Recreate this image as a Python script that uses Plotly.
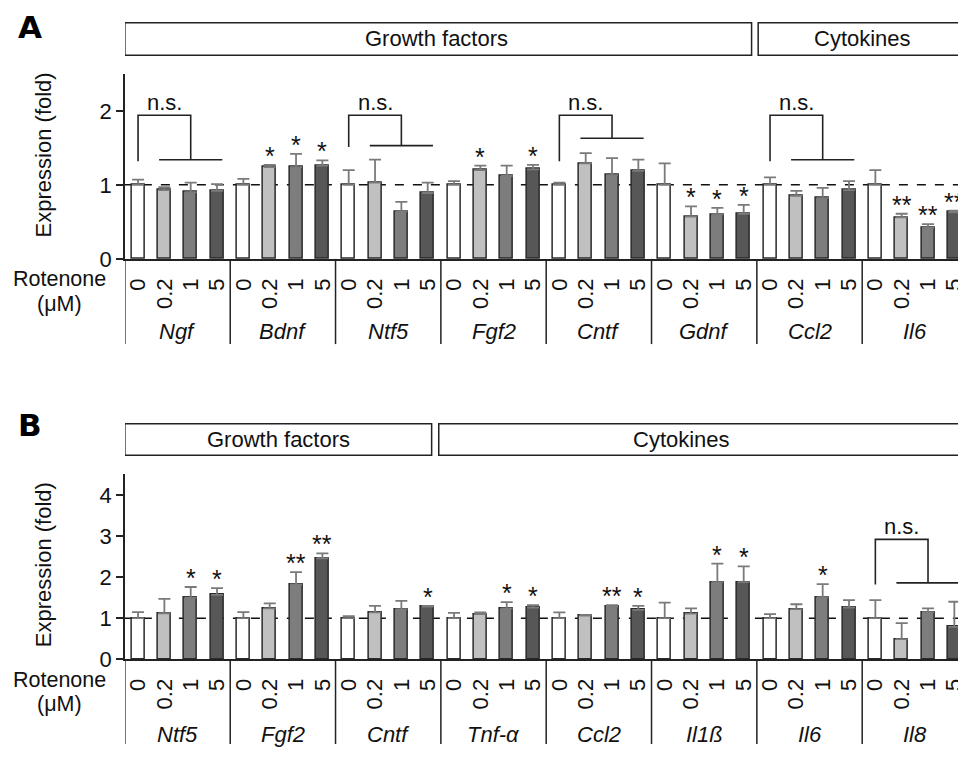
import plotly.graph_objects as go

# ---------------- data ----------------
conc_labels = ["0", "0.2", "1", "5"]

genes_A = ["Ngf", "Bdnf", "Ntf5", "Fgf2", "Cntf", "Gdnf", "Ccl2", "Il6"]
A_mean_0 = [1.00, 1.00, 1.00, 1.00, 1.00, 1.00, 1.00, 1.00]
A_mean_02 = [0.93, 1.24, 1.03, 1.20, 1.29, 0.57, 0.85, 0.56]
A_mean_1 = [0.90, 1.24, 0.64, 1.12, 1.13, 0.60, 0.82, 0.42]
A_mean_5 = [0.92, 1.26, 0.89, 1.21, 1.19, 0.61, 0.93, 0.63]
A_err_0 = [0.07, 0.08, 0.20, 0.05, 0.03, 0.29, 0.10, 0.20]
A_err_02 = [0.04, 0.03, 0.31, 0.06, 0.14, 0.14, 0.07, 0.05]
A_err_1 = [0.13, 0.18, 0.13, 0.14, 0.23, 0.09, 0.14, 0.05]
A_err_5 = [0.09, 0.07, 0.14, 0.06, 0.15, 0.12, 0.12, 0.02]
A_sig_0 = ["", "", "", "", "", "", "", ""]
A_sig_02 = ["", "*", "", "*", "", "*", "", "**"]
A_sig_1 = ["", "*", "", "", "", "*", "", "**"]
A_sig_5 = ["", "*", "", "*", "", "*", "", "**"]

genes_B = ["Ntf5", "Fgf2", "Cntf", "Tnf-α", "Ccl2", "Il1ß", "Il6", "Il8"]
B_mean_0 = [1.00, 1.00, 1.00, 1.00, 1.00, 1.00, 1.00, 1.00]
B_mean_02 = [1.12, 1.24, 1.14, 1.10, 1.06, 1.11, 1.22, 0.49]
B_mean_1 = [1.50, 1.82, 1.22, 1.24, 1.28, 1.88, 1.51, 1.15]
B_mean_5 = [1.57, 2.46, 1.28, 1.26, 1.20, 1.88, 1.26, 0.79]
B_err_0 = [0.15, 0.15, 0.05, 0.13, 0.14, 0.38, 0.10, 0.44]
B_err_02 = [0.35, 0.12, 0.16, 0.04, 0.02, 0.13, 0.12, 0.39]
B_err_1 = [0.26, 0.30, 0.20, 0.15, 0.04, 0.45, 0.32, 0.09]
B_err_5 = [0.16, 0.12, 0.02, 0.06, 0.10, 0.38, 0.18, 0.61]
B_sig_0 = ["", "", "", "", "", "", "", ""]
B_sig_02 = ["", "", "", "", "", "", "", ""]
B_sig_1 = ["*", "**", "", "*", "**", "*", "*", ""]
B_sig_5 = ["*", "**", "*", "*", "*", "*", "", ""]

# n.s. brackets: (gene index, left-leg bottom, top, lower line level)
A_ns = [(0, 1.32, 1.94, 1.34), (2, 1.51, 1.94, 1.53), (4, 1.32, 1.94, 1.63), (6, 1.32, 1.94, 1.34)]
B_ns = [(7, 1.82, 2.92, 1.86)]

A_headers = [("Growth factors", -0.5, 23.3, 11.34), ("Cytokines", 23.55, 31.6, 27.5)]
B_headers = [("Growth factors", -0.5, 11.15, 5.33), ("Cytokines", 11.42, 32.5, 20.63)]

# ---------------- style ----------------
# page body adds an 8px margin, so the figure is 8px smaller than the window
OFF = 8
W, H = 966 - OFF, 760 - OFF
FONT = "Liberation Sans, Arial, sans-serif"
bar_colors = ["#ffffff", "#c0c0c0", "#7d7d7d", "#575757"]
edge = "#2a2a2a"
errc = "#7a7a7a"
XR = [-0.5, -0.5 + (966 - 125) / 26.36]


def px(x):
    return (x - OFF) / W


def py(y):
    return 1 - (y - OFF) / H


panels = [
    dict(ax="", genes=genes_A,
         means=[A_mean_0, A_mean_02, A_mean_1, A_mean_5],
         errs=[A_err_0, A_err_02, A_err_1, A_err_5],
         sigs=[A_sig_0, A_sig_02, A_sig_1, A_sig_5],
         ns=A_ns, headers=A_headers, ymax=2.5, ticks=[0, 1, 2],
         top=75, zero=263.3, bottom=350, gene_y=337, rot_y=284, um_y=309,
         title_y=157, box=(23, 56), letter="A", letter_y=27),
    dict(ax="2", genes=genes_B,
         means=[B_mean_0, B_mean_02, B_mean_1, B_mean_5],
         errs=[B_err_0, B_err_02, B_err_1, B_err_5],
         sigs=[B_sig_0, B_sig_02, B_sig_1, B_sig_5],
         ns=B_ns, headers=B_headers, ymax=4.5, ticks=[0, 1, 2, 3, 4],
         top=482.7, zero=670.7, bottom=757, gene_y=747, rot_y=692, um_y=716,
         title_y=574, box=(431, 463), letter="B", letter_y=432),
]

fig = go.Figure()
shapes = []
annotations = []
layout = {}


def ann(**kw):
    d = dict(showarrow=False, xanchor="center", yanchor="middle")
    d.update(kw)
    annotations.append(d)


for p in panels:
    xa, ya = "x" + p["ax"], "y" + p["ax"]
    n = len(p["genes"])
    for c in range(4):
        xs = [4 * g + c for g in range(n)]
        fig.add_trace(go.Bar(
            x=xs, y=p["means"][c], width=0.5,
            marker=dict(color=bar_colors[c], line=dict(color=edge, width=1.5)),
            error_y=dict(type="data", array=p["errs"][c], arrayminus=[0] * n,
                         symmetric=False, color=errc, thickness=1.8, width=6),
            xaxis=xa, yaxis=ya, showlegend=False, hoverinfo="skip"))
        for g in range(n):
            s = p["sigs"][c][g]
            if s:
                ann(x=4 * g + c, y=p["means"][c][g] + p["errs"][c][g], xref=xa, yref=ya,
                    text=s, yanchor="bottom", yshift=-7,
                    font=dict(family=FONT, size=25, color="#111"))
    # n.s. brackets
    for (g, leg_bottom, top, low) in p["ns"]:
        b = 4 * g
        fig.add_trace(go.Scatter(
            x=[b, b, b + 2, b + 2, None, b + 0.8, b + 3.2],
            y=[leg_bottom, top, top, low, None, low, low],
            mode="lines", line=dict(color="#222", width=1.6),
            xaxis=xa, yaxis=ya, showlegend=False, hoverinfo="skip"))
        ann(x=b + 1, y=top, xref=xa, yref=ya, text="n.s.",
            yanchor="bottom", yshift=-2, font=dict(family=FONT, size=22, color="#111"))

    dom_y = [py(p["zero"]), py(p["top"])]
    layout["xaxis" + p["ax"]] = dict(
        domain=[px(125), 1], range=XR, anchor=ya,
        tickmode="array", tickvals=list(range(4 * n)),
        ticktext=conc_labels * n, tickangle=-90,
        ticks="", ticklabelstandoff=9, ticklabeloverflow="allow",
        showline=True, linecolor="#222", linewidth=1.5,
        showgrid=False, zeroline=False,
        tickfont=dict(family=FONT, size=22, color="#111"))
    layout["yaxis" + p["ax"]] = dict(
        domain=dom_y, range=[0, p["ymax"]], anchor=xa,
        tickmode="array", tickvals=p["ticks"],
        ticks="outside", ticklen=7, tickwidth=1.5, tickcolor="#222",
        showline=True, linecolor="#222", linewidth=1.5,
        showgrid=False, zeroline=False,
        tickfont=dict(family=FONT, size=22, color="#111"))

    # dashed reference line at 1
    shapes.append(dict(type="line", xref=xa, yref=ya, x0=XR[0], x1=XR[1], y0=1, y1=1,
                       line=dict(color="#111", width=1.5, dash="dash"), layer="below"))
    # separators below axis
    for g in range(n):
        shapes.append(dict(type="line", xref=xa, yref="paper",
                           x0=4 * g - 0.5, x1=4 * g - 0.5,
                           y0=py(p["zero"]), y1=py(p["bottom"]),
                           line=dict(color="#222", width=1.5)))
    # gene names
    for g, name in enumerate(p["genes"]):
        ann(x=4 * g + 1.5, y=py(p["gene_y"]), xref=xa, yref="paper",
            text="<i>%s</i>" % name, font=dict(family=FONT, size=22, color="#111"))
    # header boxes
    for (label, x0, x1, xt) in p["headers"]:
        shapes.append(dict(type="rect", xref=xa, yref="paper", x0=x0, x1=x1,
                           y0=py(p["box"][1]), y1=py(p["box"][0]),
                           line=dict(color="#222", width=1.5), fillcolor="rgba(0,0,0,0)"))
        ann(x=xt, y=py((p["box"][0] + p["box"][1]) / 2), xref=xa, yref="paper",
            text=label, font=dict(family=FONT, size=22, color="#111"))
    # rotenone label
    ann(x=px(60), y=py(p["rot_y"]), xref="paper", yref="paper",
        text="Rotenone", font=dict(family=FONT, size=21.5, color="#111"))
    ann(x=px(60), y=py(p["um_y"]), xref="paper", yref="paper",
        text="(μM)", font=dict(family=FONT, size=21.5, color="#111"))
    # y title
    ann(x=px(43), y=py(p["title_y"]), xref="paper", yref="paper",
        text="Expression (fold)", textangle=-90,
        font=dict(family=FONT, size=22, color="#111"))
    # panel letter
    ann(x=px(30), y=py(p["letter_y"]), xref="paper", yref="paper",
        text="<b>%s</b>" % p["letter"],
        font=dict(family="DejaVu Sans, sans-serif", size=31, color="#000"))

fig.update_layout(
    width=W, height=H, margin=dict(l=0, r=0, t=0, b=0),
    paper_bgcolor="white", plot_bgcolor="white",
    barmode="overlay", bargap=0,
    shapes=shapes, annotations=annotations,
    **layout)

fig.write_html("out.html")
